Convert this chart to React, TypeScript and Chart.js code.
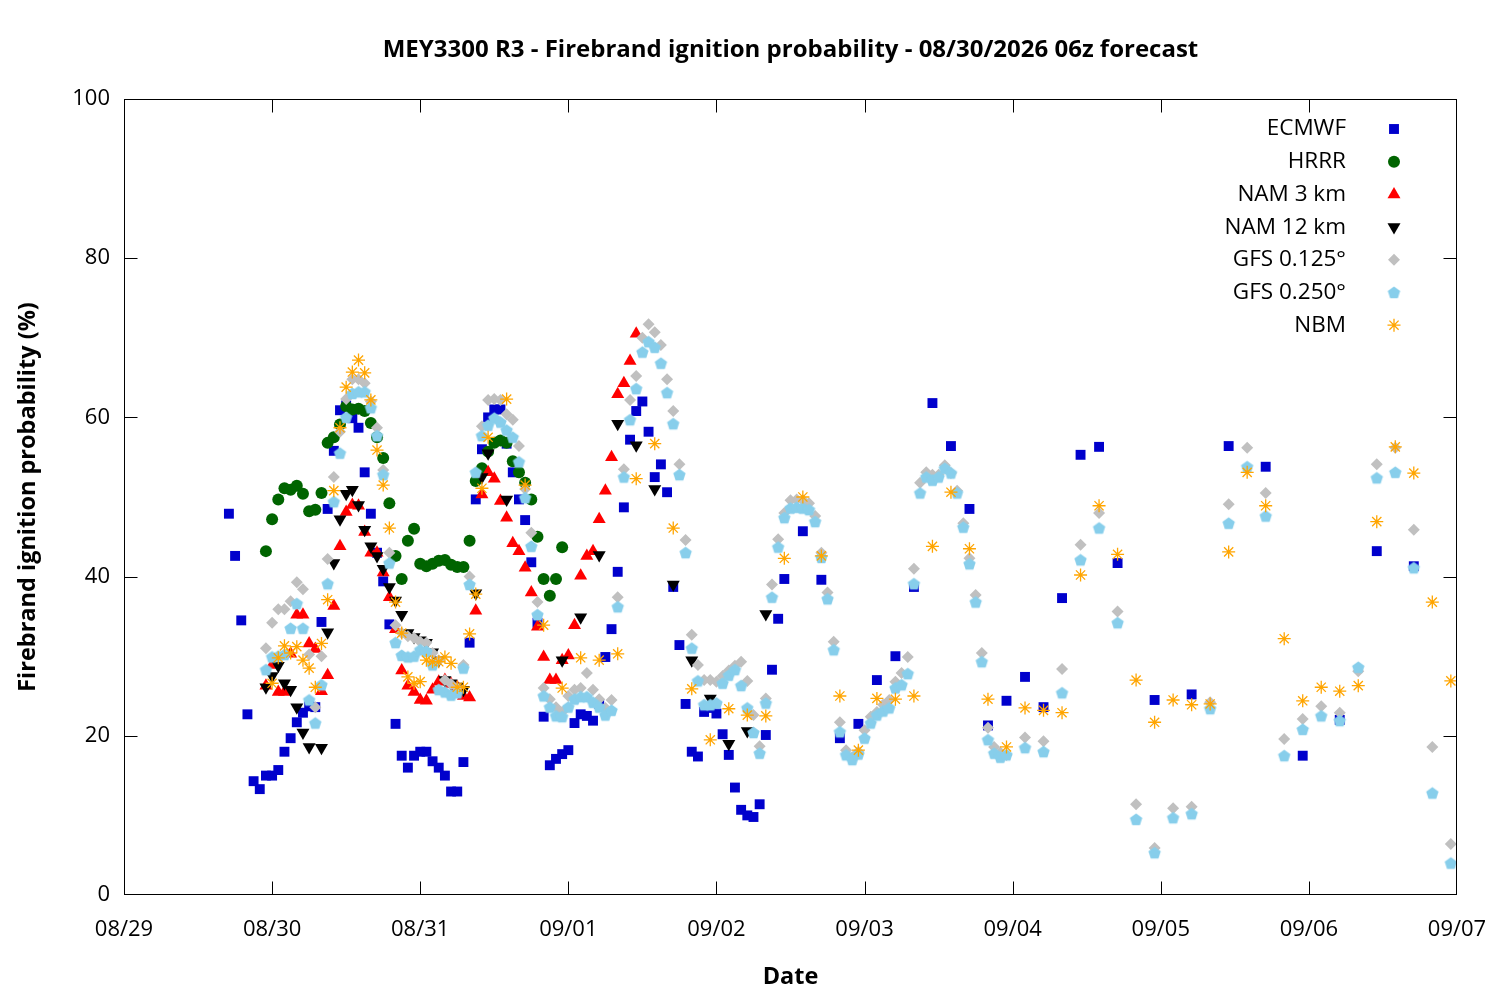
import { useEffect, useRef } from 'react';
import { Chart, registerables } from 'chart.js';
import { drawPoint } from 'chart.js/helpers';

Chart.register(...registerables);

// x = hours since 08/29 00z
const X_TICK_LABELS = ['08/29', '08/30', '08/31', '09/01', '09/02', '09/03', '09/04', '09/05', '09/06', '09/07'];
const TITLE = 'MEY3300 R3 - Firebrand ignition probability - 08/30/2026 06z forecast';
const Y_TITLE = 'Firebrand ignition probability (%)';
const X_TITLE = 'Date';

const ECMWF: [number, number][] = [
  [17, 47.9], [18, 42.6], [19, 34.5], [20, 22.7], [21, 14.3], [22, 13.3], [23, 15], [24, 15], [25, 15.7],
  [26, 18], [27, 19.7], [28, 21.7], [29, 22.9], [30, 23.7], [31, 23.6], [32, 34.3], [33, 48.5], [34, 55.8],
  [35, 60.9], [36, 61.5], [37, 59.9], [38, 58.7], [39, 53.1], [40, 47.9], [41, 43], [42, 39.4], [43, 34],
  [44, 21.5], [45, 17.5], [46, 16], [47, 17.5], [48, 18], [49, 18], [50, 16.8], [51, 16], [52, 15], [53, 13],
  [54, 13], [55, 16.7], [56, 31.7], [57, 49.7], [58, 56], [59, 60], [60, 61], [61, 61], [62, 56.7], [63, 53.1],
  [64, 49.7], [65, 47.1], [66, 41.8], [67, 34.2], [68, 22.4], [69, 16.3], [70, 17.1], [71, 17.7], [72, 18.2],
  [73, 21.6], [74, 22.7], [75, 22.5], [76, 21.9], [77, 24], [78, 29.9], [79, 33.4], [80, 40.6], [81, 48.7],
  [82, 57.2], [83, 60.8], [84, 62], [85, 58.2], [86, 52.5], [87, 54.1], [88, 50.6], [89, 38.7], [90, 31.4],
  [91, 24], [92, 18], [93, 17.4], [94, 23], [95, 23.5], [96, 22.8], [97, 20.2], [98, 17.6], [99, 13.5],
  [100, 10.7], [101, 10], [102, 9.8], [103, 11.4], [104, 20.1], [105, 28.3], [106, 34.7], [107, 39.7],
  [110, 45.7], [113, 39.6], [116, 19.7], [119, 21.5], [122, 27], [125, 30], [128, 38.7], [131, 61.8],
  [134, 56.4], [137, 48.5], [140, 21.3], [143, 24.4], [146, 27.4], [149, 23.6], [152, 37.3], [155, 55.3],
  [158, 56.3], [161, 41.7], [167, 24.5], [173, 25.2], [179, 56.4], [185, 53.8], [191, 17.5], [197, 22],
  [203, 43.2], [209, 41.3],
];

const HRRR: [number, number][] = [
  [23, 43.2], [24, 47.2], [25, 49.7], [26, 51.1], [27, 50.9], [28, 51.4], [29, 50.4], [30, 48.2], [31, 48.4],
  [32, 50.5], [33, 56.8], [34, 57.5], [35, 59.1], [36, 61.4], [37, 61], [38, 61.1], [39, 60.8], [40, 59.3],
  [41, 57.5], [42, 54.9], [43, 49.2], [44, 42.6], [45, 39.7], [46, 44.5], [47, 46], [48, 41.6], [49, 41.3],
  [50, 41.6], [51, 42], [52, 42.1], [53, 41.5], [54, 41.2], [55, 41.2], [56, 44.5], [57, 52], [58, 53.6],
  [59, 55.7], [60, 56.8], [61, 57.1], [62, 56.8], [63, 54.5], [64, 53.1], [65, 51.8], [66, 49.7], [67, 45],
  [68, 39.7], [69, 37.6], [70, 39.7], [71, 43.7],
];

const NAM3: [number, number][] = [
  [23, 26.3], [24, 28.9], [25, 25.5], [26, 25.5], [27, 30.3], [28, 35.2], [29, 35.2], [30, 31.6], [31, 30.9],
  [32, 25.6], [33, 27.6], [34, 36.3], [35, 43.8], [36, 48.1], [37, 49], [38, 48.9], [39, 45.6], [40, 43],
  [41, 43], [42, 40.5], [43, 37.4], [44, 33.4], [45, 28.2], [46, 26.3], [47, 25.5], [48, 24.5], [49, 24.4],
  [50, 25.8], [51, 26.8], [52, 27], [53, 26.5], [54, 26.1], [55, 25], [56, 24.8], [57, 35.7], [58, 50.3],
  [59, 53.1], [60, 52.3], [61, 49.5], [62, 47.4], [63, 44.2], [64, 43.2], [65, 41.1], [66, 38], [67, 33.7],
  [68, 29.9], [69, 27], [70, 27], [71, 29.5], [72, 30.1], [73, 33.9], [74, 40.1], [75, 42.6], [76, 43.2],
  [77, 47.2], [78, 50.8], [79, 55], [80, 62.9], [81, 64.3], [82, 67.1], [83, 70.5],
];

const NAM12: [number, number][] = [
  [23, 26.1], [24, 27.5], [25, 28.8], [26, 26.6], [27, 25.8], [28, 23.6], [29, 20.4], [30, 18.6], [32, 18.5],
  [33, 33], [34, 41.7], [35, 47.2], [36, 50.4], [37, 50.9], [38, 49], [39, 45.9], [40, 43.8], [41, 42.6],
  [42, 41], [43, 38.7], [44, 37], [45, 35.2], [46, 32.9], [47, 32.4], [48, 32], [49, 31.7], [50, 30.5],
  [51, 29.5], [52, 27], [53, 26.6], [54, 26.2], [55, 25.8], [57, 37.9], [58, 52.5], [59, 55.5], [62, 49.7],
  [71, 29.5], [74, 34.9], [77, 42.7], [80, 59.2], [83, 56.5], [86, 51], [89, 39], [92, 29.5], [95, 24.7],
  [98, 19], [101, 20.6], [104, 35.3],
];

const GFS0125: [number, number][] = [
  [23, 31], [24, 34.2], [25, 35.9], [26, 35.9], [27, 36.9], [28, 39.3], [29, 38.4], [30, 30.2], [31, 23.6],
  [32, 30], [33, 42.2], [34, 52.5], [35, 58.2], [36, 62.3], [37, 64.8], [38, 64.8], [39, 64.3], [40, 62],
  [41, 58.7], [42, 53.4], [43, 43], [44, 33.9], [45, 32.9], [46, 32.5], [47, 32.3], [48, 31.8], [49, 31.7],
  [50, 30.4], [51, 29.5], [52, 27], [53, 26.5], [54, 26], [55, 28.9], [56, 40], [58, 58.9], [59, 62.2],
  [60, 62.3], [61, 62.2], [62, 60.4], [63, 59.7], [64, 56.4], [65, 51], [66, 45.5], [67, 36.8], [68, 26],
  [69, 24.6], [70, 23.6], [71, 23], [72, 25], [73, 25.8], [74, 26], [75, 27.9], [76, 25.8], [77, 24.6],
  [78, 23.5], [79, 24.5], [80, 37.4], [81, 53.5], [82, 62.2], [83, 65.2], [84, 70], [85, 71.7], [86, 70.7],
  [87, 69.1], [88, 64.8], [89, 60.8], [90, 54.1], [91, 44.6], [92, 32.7], [93, 28.9], [94, 27], [95, 27],
  [96, 26.8], [97, 27.5], [98, 28.2], [99, 28.8], [100, 29.3], [101, 26.9], [102, 22.6], [103, 18.7],
  [104, 24.7], [105, 39], [106, 44.7], [107, 48], [108, 49.6], [109, 49.7], [110, 49.6], [111, 49.2],
  [112, 47.6], [113, 43], [114, 38], [115, 31.8], [116, 21.7], [117, 18.2], [118, 17.3], [119, 18],
  [120, 20.7], [121, 22.4], [122, 23], [123, 23.9], [124, 24.5], [125, 26.8], [126, 27.9], [127, 29.9],
  [128, 41], [129, 51.8], [130, 53.1], [131, 52.8], [132, 52.8], [133, 54], [134, 53], [135, 50.8],
  [136, 46.7], [137, 42.3], [138, 37.7], [139, 30.4], [140, 21], [141, 18.6], [142, 17.9], [143, 17.6],
  [146, 19.8], [149, 19.3], [152, 28.4], [155, 44], [158, 48], [161, 35.6], [164, 11.4], [167, 5.9],
  [170, 10.9], [173, 11.1], [176, 24.2], [179, 49.1], [182, 56.2], [185, 50.5], [188, 19.6], [191, 22.1],
  [194, 23.7], [197, 22.9], [200, 28.1], [203, 54.1], [206, 56.2], [209, 45.9], [212, 18.6], [215, 6.4],
];

const GFS0250: [number, number][] = [
  [23, 28.3], [24, 29.9], [25, 30], [26, 30.2], [27, 33.5], [28, 36.6], [29, 33.5], [30, 24.5], [31, 21.6],
  [32, 26.4], [33, 39.1], [34, 49.4], [35, 55.5], [36, 60], [37, 63], [38, 63.2], [39, 63.2], [40, 61.2],
  [41, 57.7], [42, 52.8], [43, 41.7], [44, 31.7], [45, 30.1], [46, 29.9], [47, 30], [48, 30.8], [49, 30.6],
  [50, 28.9], [51, 25.8], [52, 25.5], [53, 25.1], [54, 25.4], [55, 28.5], [56, 39], [57, 53.1], [58, 57.7],
  [59, 59], [60, 59.9], [61, 59.4], [62, 58.4], [63, 57.5], [64, 54.4], [65, 49.9], [66, 43.8], [67, 35.2],
  [68, 25], [69, 23.6], [70, 22.5], [71, 22.4], [72, 23.6], [73, 24.6], [74, 24.9], [75, 24.9], [76, 24.2],
  [77, 23.6], [78, 22.6], [79, 23.2], [80, 36.2], [81, 52.5], [82, 59.7], [83, 63.6], [84, 68.2], [85, 69.5],
  [86, 68.8], [87, 66.8], [88, 63.1], [89, 59.2], [90, 52.8], [91, 43], [92, 31], [93, 26.9], [94, 23.9],
  [95, 23.9], [96, 24.1], [97, 26.6], [98, 27.6], [99, 28.3], [100, 26.3], [101, 23.5], [102, 20.4],
  [103, 17.8], [104, 24.1], [105, 37.4], [106, 43.7], [107, 47.4], [108, 48.6], [109, 48.7], [110, 48.6],
  [111, 48.4], [112, 46.9], [113, 42.4], [114, 37.2], [115, 30.8], [116, 20.5], [117, 17.6], [118, 17],
  [119, 17.7], [120, 19.7], [121, 21.6], [122, 22.6], [123, 23.1], [124, 23.5], [125, 26], [126, 26.4],
  [127, 27.8], [128, 39.1], [129, 50.5], [130, 52.5], [131, 52.1], [132, 52.5], [133, 53.6], [134, 53],
  [135, 50.5], [136, 46.2], [137, 41.6], [138, 36.8], [139, 29.3], [140, 19.5], [141, 17.8], [142, 17.3],
  [143, 17.6], [146, 18.5], [149, 18], [152, 25.4], [155, 42.1], [158, 46.1], [161, 34.2], [164, 9.5],
  [167, 5.3], [170, 9.7], [173, 10.2], [176, 23.4], [179, 46.7], [182, 53.8], [185, 47.6], [188, 17.5],
  [191, 20.8], [194, 22.5], [197, 21.9], [200, 28.6], [203, 52.4], [206, 53.1], [209, 41.1], [212, 12.8],
  [215, 4],
];

const NBM: [number, number][] = [
  [24, 26.6], [25, 29.8], [26, 31.3], [27, 30.4], [28, 31.2], [29, 29.5], [30, 28.5], [31, 26.1], [32, 31.6],
  [33, 37.1], [34, 50.8], [35, 58.7], [36, 63.8], [37, 65.7], [38, 67.2], [39, 65.6], [40, 62.2], [41, 55.9],
  [42, 51.5], [43, 46.1], [44, 36.8], [45, 32.9], [46, 27.4], [47, 26.6], [48, 26.8], [49, 29.5], [50, 29.3],
  [51, 29.3], [52, 29.9], [53, 29.1], [54, 26.1], [55, 26.1], [56, 32.8], [57, 37.8], [58, 51.1], [59, 57.5],
  [62, 62.3], [65, 51.5], [68, 33.9], [71, 26], [74, 29.8], [77, 29.5], [80, 30.3], [83, 52.3], [86, 56.7],
  [89, 46.1], [92, 25.9], [95, 19.5], [98, 23.4], [101, 22.6], [104, 22.5], [107, 42.3], [110, 50],
  [113, 42.6], [116, 25], [119, 18.2], [122, 24.7], [125, 24.6], [128, 25], [131, 43.8], [134, 50.6],
  [137, 43.5], [140, 24.6], [143, 18.6], [146, 23.5], [149, 23.2], [152, 22.9], [155, 40.2], [158, 48.9],
  [161, 42.8], [164, 27], [167, 21.7], [170, 24.5], [173, 23.9], [176, 24], [179, 43.1], [182, 53.1],
  [185, 48.9], [188, 32.2], [191, 24.4], [194, 26.1], [197, 25.6], [200, 26.3], [203, 46.9], [206, 56.3],
  [209, 53], [212, 36.8], [215, 26.9],
];

const FONT = '"Open Sans", "Noto Sans", sans-serif';

function makePentagon(color: string, r: number) {
  const c = document.createElement('canvas');
  const size = Math.ceil(r * 2 + 2);
  c.width = size;
  c.height = size;
  const g = c.getContext('2d')!;
  g.fillStyle = color;
  g.beginPath();
  for (let i = 0; i < 5; i++) {
    const a = -Math.PI / 2 + (i * 2 * Math.PI) / 5;
    const px = size / 2 + r * Math.cos(a);
    const py = size / 2 + 0.5 + r * Math.sin(a);
    if (i === 0) g.moveTo(px, py);
    else g.lineTo(px, py);
  }
  g.closePath();
  g.fill();
  return c;
}

const toPts = (arr: [number, number][]) => arr.map(([x, y]) => ({ x, y }));

const framePlugin = {
  id: 'gnuFrame',
  afterDraw(chart: any) {
    const { ctx, chartArea: a, scales } = chart;
    const l = a.left + 0.5;
    const r = a.right - 0.5;
    const t = a.top + 0.5;
    const b = a.bottom - 0.5;
    const clamp = (v: number, lo: number, hi: number) => Math.min(hi, Math.max(lo, v));
    ctx.save();
    ctx.strokeStyle = '#000';
    ctx.lineWidth = 1;
    ctx.strokeRect(l, t, r - l, b - t);
    ctx.beginPath();
    const tl = 13;
    scales.x.ticks.forEach((tk: any) => {
      const px = clamp(Math.round(scales.x.getPixelForValue(tk.value)) + 0.5, l, r);
      ctx.moveTo(px, b);
      ctx.lineTo(px, b - tl);
      ctx.moveTo(px, t);
      ctx.lineTo(px, t + tl);
    });
    scales.y.ticks.forEach((tk: any) => {
      const py = clamp(Math.round(scales.y.getPixelForValue(tk.value)) + 0.5, t, b);
      ctx.moveTo(l, py);
      ctx.lineTo(l + tl, py);
      ctx.moveTo(r, py);
      ctx.lineTo(r - tl, py);
    });
    ctx.stroke();

    const cx = (a.left + a.right) / 2;
    ctx.fillStyle = '#000';
    ctx.textAlign = 'center';
    ctx.textBaseline = 'middle';
    ctx.font = `bold 24px ${FONT}`;
    ctx.fillText(TITLE, cx, 50);
    ctx.font = `bold 23.5px ${FONT}`;
    ctx.fillText(X_TITLE, cx, 977);
    ctx.save();
    ctx.translate(28, (a.top + a.bottom) / 2);
    ctx.rotate(-Math.PI / 2);
    ctx.fillText(Y_TITLE, 0, 0);
    ctx.restore();

    // key, top right
    ctx.font = `22.5px ${FONT}`;
    ctx.textAlign = 'right';
    chart.data.datasets.forEach((ds: any, i: number) => {
      const y = a.top + 30 + i * 32.7;
      ctx.fillStyle = '#000';
      ctx.fillText(ds.label, a.right - 111, y);
      ctx.fillStyle = ds.pointBackgroundColor;
      ctx.strokeStyle = ds.pointBorderColor;
      ctx.lineWidth = ds.pointBorderWidth;
      drawPoint(ctx, {
        pointStyle: ds.pointStyle,
        rotation: ds.pointRotation || 0,
        radius: ds.pointRadius,
        borderWidth: ds.pointBorderWidth,
      }, a.right - 63, y);
    });
    ctx.restore();
  },
};

const noEdgePadding = (s: any) => {
  s.paddingLeft = 0;
  s.paddingRight = 0;
  s.paddingTop = 0;
  s.paddingBottom = 0;
};

export default function App() {
  const canvasRef = useRef<HTMLCanvasElement>(null);
  const chartRef = useRef<Chart | null>(null);

  useEffect(() => {
    document.body.style.margin = '0';
    if (!canvasRef.current) return;
    if (chartRef.current) chartRef.current.destroy();

    const pentagon = makePentagon('#87ceeb', 6.5);
    const mk = (label: string, data: [number, number][], style: any, color: string, radius: number, order: number, extra: any = {}) => ({
      label,
      data: toPts(data),
      showLine: false,
      pointStyle: style,
      pointRadius: radius,
      pointBackgroundColor: color,
      pointBorderColor: color,
      pointBorderWidth: 0,
      order,
      ...extra,
    });

    chartRef.current = new Chart(canvasRef.current, {
      type: 'scatter',
      data: {
        datasets: [
          mk('ECMWF', ECMWF, 'rect', '#0000cc', 7, 7),
          mk('HRRR', HRRR, 'circle', '#006400', 6, 6),
          mk('NAM 3 km', NAM3, 'triangle', '#ff0000', 7.5, 5),
          mk('NAM 12 km', NAM12, 'triangle', '#000000', 7.5, 4, { pointRotation: 180 }),
          mk('GFS 0.125°', GFS0125, 'rectRot', '#c0c0c0', 6, 3),
          mk('GFS 0.250°', GFS0250, pentagon, '#87ceeb', 6.5, 2),
          mk('NBM', NBM, 'star', '#ffa500', 6.5, 1, { pointBorderWidth: 1.3 }),
        ] as any,
      },
      options: {
        animation: false,
        responsive: false,
        devicePixelRatio: 1,
        events: [],
        layout: { padding: { top: 99, right: 43, bottom: 0, left: 0 } },
        plugins: { legend: { display: false }, tooltip: { enabled: false }, title: { display: false } },
        scales: {
          x: {
            type: 'linear',
            min: 0,
            max: 216,
            grid: { display: false, drawTicks: false },
            border: { display: false },
            afterFit: (s: any) => { s.height = 105; noEdgePadding(s); },
            afterBuildTicks: (s: any) => { s.ticks = X_TICK_LABELS.map((_, i) => ({ value: i * 24 })); },
            ticks: {
              autoSkip: false,
              maxRotation: 0,
              padding: 22,
              color: '#000',
              font: { size: 22, family: FONT },
              callback: (v: any) => X_TICK_LABELS[Math.round(Number(v) / 24)] ?? '',
            },
          },
          y: {
            min: 0,
            max: 100,
            grid: { display: false, drawTicks: false },
            border: { display: false },
            afterFit: (s: any) => { s.width = 124; noEdgePadding(s); },
            ticks: {
              stepSize: 20,
              padding: 14,
              color: '#000',
              font: { size: 22, family: FONT },
            },
          },
        },
      },
      plugins: [framePlugin],
    });

    return () => { chartRef.current?.destroy(); chartRef.current = null; };
  }, []);

  return (
    <div style={{ width: 1500, height: 1000, background: '#fff' }}>
      <canvas ref={canvasRef} width={1500} height={1000} />
    </div>
  );
}
